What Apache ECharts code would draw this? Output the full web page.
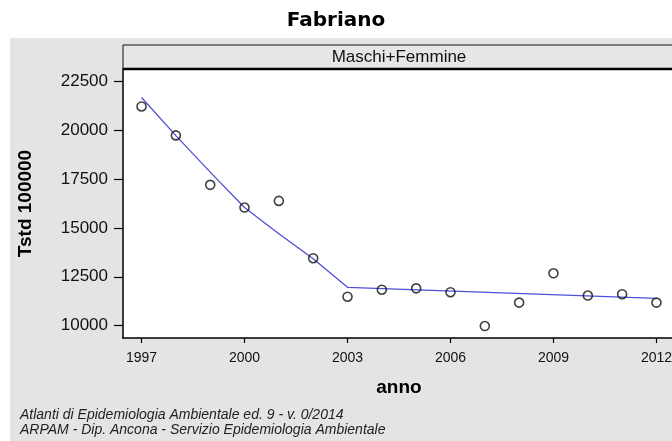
<!DOCTYPE html>
<html>
<head>
<meta charset="utf-8">
<script src="https://cdn.jsdelivr.net/npm/echarts@6/dist/echarts.min.js"></script>
<style>
  html, body { margin: 0; padding: 0; background: #fff; }
  #chart { width: 672px; height: 441px; }
</style>
</head>
<body>
<div id="chart"></div>
<script>
// anni e tassi osservati (cerchi)
var anni = [1997, 1998, 1999, 2000, 2001, 2002, 2003, 2004, 2005, 2006, 2007, 2008, 2009, 2010, 2011, 2012];
var tassi = [21210, 19730, 17200, 16040, 16380, 13450, 11480, 11840, 11910, 11710, 9980, 11180, 12680, 11540, 11610, 11180];
// curva di regressione (linea blu)
var anniFit = [1997, 1998, 1999, 2000, 2001, 2002, 2003, 2012];
var tassiFit = [21670, 19720, 17850, 16040, 14700, 13420, 11960, 11400];
// etichette assi
var tickAnni = [1997, 2000, 2003, 2006, 2009, 2012];
var tickTassi = [10000, 12500, 15000, 17500, 20000, 22500];

var punti = [];
for (var i = 0; i < anni.length; i++) punti.push([anni[i], tassi[i]]);
var fit = [];
for (var j = 0; j < anniFit.length; j++) fit.push([anniFit[j], tassiFit[j]]);

var myChart = echarts.init(document.getElementById('chart'));
var option = {
    animation: false,
    title: {
        text: 'Fabriano',
        left: 'center',
        top: 6,
        textStyle: { fontFamily: 'DejaVu Sans', fontWeight: 'bold', fontSize: 20, color: '#000' }
    },
    graphic: [
        // sfondo grigio
        { type: 'rect', z: -100, shape: { x: 10, y: 38, width: 662, height: 403 }, style: { fill: '#e4e4e4' } },
        // area del grafico
        { type: 'rect', z: -90, shape: { x: 123, y: 69, width: 560, height: 269 }, style: { fill: '#ffffff' } },
        // striscia intestazione
        { type: 'rect', z: -80, shape: { x: 123, y: 45, width: 560, height: 24 }, style: { fill: '#e6e6e6', stroke: '#111', lineWidth: 1 } },
        { type: 'line', z: 10, shape: { x1: 123, y1: 69, x2: 672, y2: 69 }, style: { stroke: '#000', lineWidth: 2.5 } },
        { type: 'text', z: 10, style: { text: 'Maschi+Femmine', x: 399, y: 57, align: 'center', verticalAlign: 'middle', font: '17px "Liberation Sans", Arial', fill: '#111' } },
        // note a piè di pagina
        { type: 'text', z: 10, style: { text: 'Atlanti di Epidemiologia Ambientale ed. 9 - v. 0/2014', x: 20, y: 415, verticalAlign: 'middle', font: 'italic 14px "Liberation Sans", Arial', fill: '#222' } },
        { type: 'text', z: 10, style: { text: 'ARPAM - Dip. Ancona - Servizio Epidemiologia Ambientale', x: 20, y: 430, verticalAlign: 'middle', font: 'italic 14px "Liberation Sans", Arial', fill: '#222' } }
    ],
    grid: {
        left: 123,
        top: 69,
        right: -3,
        bottom: 103,
        outerBoundsMode: 'none'
    },
    xAxis: {
        type: 'value',
        min: 1996.46,
        max: 2012.54,
        name: 'anno',
        nameLocation: 'middle',
        nameGap: 40,
        nameTextStyle: { fontFamily: 'Liberation Sans', fontWeight: 'bold', fontSize: 19, color: '#000' },
        axisLine: { lineStyle: { color: '#000', width: 1.5 } },
        axisTick: { show: true, length: 5, customValues: tickAnni, lineStyle: { color: '#000', width: 1.2 } },
        axisLabel: {
            customValues: tickAnni, margin: 13, fontFamily: 'Liberation Sans', fontSize: 14, color: '#111',
            formatter: function (v) { return String(v); }
        },
        splitLine: { show: false }
    },
    yAxis: {
        type: 'value',
        min: 9370,
        max: 23125,
        name: 'Tstd 100000',
        nameLocation: 'middle',
        nameRotate: 90,
        nameGap: 88,
        nameTextStyle: { fontFamily: 'Liberation Sans', fontWeight: 'bold', fontSize: 19, color: '#000' },
        axisLine: { show: true, lineStyle: { color: '#000', width: 1.5 } },
        axisTick: { show: true, length: 9, customValues: tickTassi, lineStyle: { color: '#000', width: 1.2 } },
        axisLabel: {
            customValues: tickTassi, margin: 15, fontFamily: 'Liberation Sans', fontSize: 17, color: '#111',
            formatter: function (v) { return String(v); }
        },
        splitLine: { show: false }
    },
    series: [
        {
            type: 'line',
            data: fit,
            showSymbol: false,
            z: 2,
            lineStyle: { color: '#4f4fd6', width: 1.3 }
        },
        {
            type: 'scatter',
            data: punti,
            symbol: 'circle',
            symbolSize: 9,
            z: 3,
            itemStyle: { color: 'transparent', borderColor: '#111', borderWidth: 1.6 }
        }
    ]
};
myChart.setOption(option);
</script>
</body>
</html>
